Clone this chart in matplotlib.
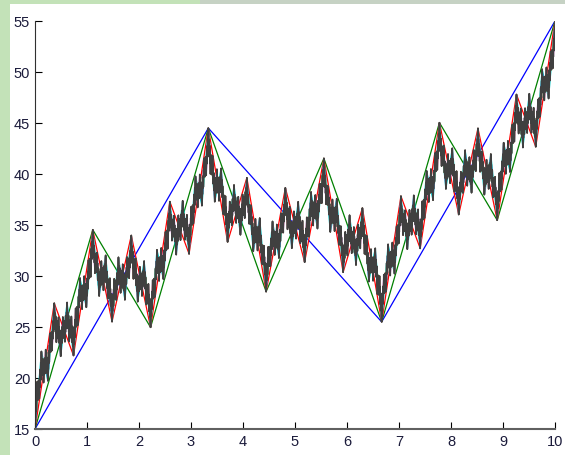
import numpy as np
import matplotlib.pyplot as plt
from matplotlib.patches import Rectangle

# interpolasjonspunkter (blaa linje) og vertikale skaleringsfaktorer
x_pts = [0, 10/3, 20/3, 10]
y_pts = [15, 44.5, 25.5, 55]
d_ = [0.6, -0.6, 0.6]
n_levels = 7
colors = [(0, 0, 1), (0, 0.5, 0), (1, 0, 0), (0, 0.75, 0.75),
          (0.75, 0, 0.75), (0.75, 0.75, 0), (0.25, 0.25, 0.25)]

x_pts = np.array(x_pts, dtype=float)
y_pts = np.array(y_pts, dtype=float)
x0, xN = x_pts[0], x_pts[-1]
y0, yN = y_pts[0], y_pts[-1]

def apply_maps(X, Y):
    # en runde med IFS-avbildningene
    xs, ys = [], []
    for i in range(1, len(x_pts)):
        a = (x_pts[i] - x_pts[i-1]) / (xN - x0)
        e = x_pts[i-1] - a * x0
        c = (y_pts[i] - y_pts[i-1] - d_[i-1] * (yN - y0)) / (xN - x0)
        f = y_pts[i-1] - c * x0 - d_[i-1] * y0
        nx = a * X + e
        ny = c * X + d_[i-1] * Y + f
        if i > 1:
            nx, ny = nx[1:], ny[1:]
        xs.append(nx)
        ys.append(ny)
    return np.concatenate(xs), np.concatenate(ys)

plt.rcParams['font.family'] = ['Liberation Sans', 'DejaVu Sans']
fig = plt.figure(figsize=(5.65, 4.56), dpi=100)
fig.patch.set_facecolor('#c3e2b8')
# graagroenn stripe oeverst til hoeyre
fig.patches.append(Rectangle((200/565, (456-5)/456), 1, 1, transform=fig.transFigure,
                             facecolor='#c6d2c4', edgecolor='none', zorder=-11))
fig.patches.append(Rectangle((10/565, 0), 1, (456-5)/456, transform=fig.transFigure,
                             facecolor='white', edgecolor='none', zorder=-10))
ax = fig.add_axes([35/565, 26/456, 520/565, 408/456])
ax.set_facecolor('white')

X, Y = x_pts.copy(), y_pts.copy()
for k in range(n_levels):
    lw = 1.2 if k == n_levels - 1 else 0.9
    ax.plot(X, Y, color=colors[k], lw=lw)
    X, Y = apply_maps(X, Y)

ax.set_xlim(0, 10)
ax.set_ylim(15, 55)
ax.set_xticks(range(0, 11))
ax.set_yticks(range(15, 56, 5))
ax.spines['top'].set_visible(False)
ax.spines['right'].set_visible(False)
ax.tick_params(direction='in', length=5, labelsize=10.5, colors='black', labelcolor='#1a1a3a')
ax.spines['left'].set_color('#303030')
ax.spines['bottom'].set_color('#606060')
ax.spines['bottom'].set_linewidth(1.5)

fig.savefig('out.png', dpi=100, facecolor=fig.get_facecolor())
